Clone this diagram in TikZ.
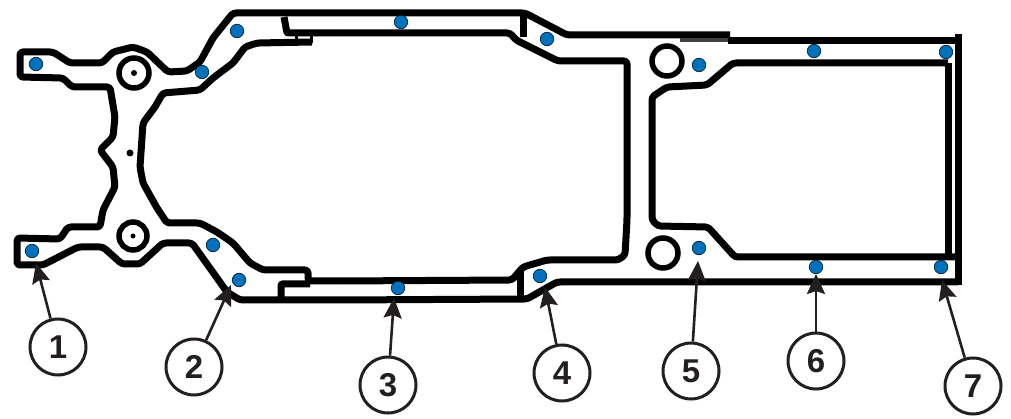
\documentclass[tikz,border=0pt]{standalone}
\usepackage{fontspec}
\setmainfont{Liberation Sans}
\usetikzlibrary{arrows.meta}
\definecolor{inkk}{HTML}{231F20}
\definecolor{bluedot}{HTML}{0072BC}
\tikzset{
  frameline/.style={black,line width=7pt,line join=round,rounded corners=3pt},
  hole/.style={black,line width=5.5pt},
  marker/.style={circle,draw=black!70!bluedot,line width=0.7pt,fill=bluedot,inner sep=0pt,minimum size=13.5pt},
  callout/.style={circle,draw=inkk,line width=3pt,fill=white,inner sep=0pt,minimum size=56pt,text=inkk,font=\fontsize{33}{33}\selectfont\bfseries},
  pointer/.style={draw=inkk,line width=2.6pt,-{Stealth[length=20pt,width=18pt,inset=3pt]}}
}
\begin{document}
\begin{tikzpicture}[x=1pt,y=-1pt]
\useasboundingbox (0,0) rectangle (1011,419);
% left cross member and front horns, outer contour
\draw[frameline] (340,13) -- (233,13) -- (213,38) -- (200,62) -- (187,71) -- (168,72) -- (147,52) -- (133,47) -- (113,52) -- (102,63) -- (70,63) -- (53,52) -- (20,52) -- (20,77) -- (63,78) -- (72,87) -- (110,87) -- (115,117) -- (113,137) -- (100,150) -- (113,167) -- (115,187) -- (103,210) -- (100,227) -- (68,227) -- (60,239) -- (17,238) -- (17,265) -- (43,265) -- (78,247) -- (103,247) -- (122,264) -- (140,264) -- (163,243) -- (192,243) -- (227,292) -- (240,300) -- (340,300);
\draw[frameline,rounded corners=1pt] (340,33) -- (287,33) -- (284,17);
\draw[frameline] (312,42) -- (257,43) -- (245,47) -- (233,63) -- (213,78) -- (200,90) -- (163,93) -- (155,107) -- (143,123) -- (140,167) -- (143,183) -- (157,208) -- (167,223) -- (200,223) -- (217,232) -- (233,243) -- (250,263) -- (263,270) -- (308,270) -- (308,281) -- (340,281);
\draw[frameline,rounded corners=1pt] (281,300) -- (281,284) -- (310,284);
% small teeth at the rail joints
\draw[black,line width=3pt] (296,33) -- (296,43) (311,33) -- (311,43);
% centre side rails
\draw[frameline] (340,13) -- (525,13) -- (567,35) -- (730,35);
\draw[frameline] (340,33) -- (510,33) -- (516,40) -- (558,61) -- (627,61) -- (627,220) -- (625,255) -- (618,260) -- (547,260) -- (523,267) -- (512,280) -- (340,281);
\draw[frameline] (340,300) -- (527,299) -- (557,282) -- (958,282);
\draw[line width=7pt,black] (523,13) -- (523,37);
\draw[line width=7pt,black] (520,270) -- (520,298);
% rear box
\draw[black!75,line width=4pt] (680,40) -- (730,40);
\draw[frameline,rounded corners=0pt] (728,40.5) -- (958,40.5);
\draw[frameline,rounded corners=0pt] (958,34) -- (958,285);
\draw[frameline] (948,63) -- (733,63) -- (707,85) -- (667,87) -- (652,97) -- (652,220) -- (658,226) -- (708,227) -- (735,257) -- (958,257);
\draw[frameline,rounded corners=0pt] (948,63) -- (948,257);
% holes
\draw[hole] (134,73) circle (15pt);
\draw[hole] (133,236) circle (14pt);
\draw[hole] (667,61) circle (15pt);
\draw[hole] (663,253) circle (15pt);
\fill[black] (134,73) circle (3pt);
\fill[black] (133,236) circle (2.5pt);
\fill[black] (130,153) circle (3.5pt);
% blue markers
\foreach \nm/\px/\py in {a/36/64,b/202/72,c/237/31,d/401/22,e/547/39,f/699/65,g/814/51,h/946/52,
  i/32/251,j/213/245,k/239/280,l/398/288,m/540/276,n/699/248,o/816/267,p/941/267}
  \node[marker] (\nm) at (\px,\py) {};
% callouts
\node[callout] (c1) at (58,347) {1};
\node[callout] (c2) at (194,367) {2};
\node[callout] (c3) at (388,385) {3};
\node[callout] (c4) at (562,373) {4};
\node[callout] (c5) at (691,371) {5};
\node[callout] (c6) at (816,361) {6};
\node[callout] (c7) at (973,386) {7};
\coordinate (t1) at (36,263);
\coordinate (t2) at (231,285);
\coordinate (t3) at (394,298);
\coordinate (t4) at (545,287);
\coordinate (t5) at (698,261);
\coordinate (t6) at (816,274);
\coordinate (t7) at (942,280);
\foreach \n in {1,...,7} \draw[pointer] (c\n) -- (t\n);
\end{tikzpicture}
\end{document}
